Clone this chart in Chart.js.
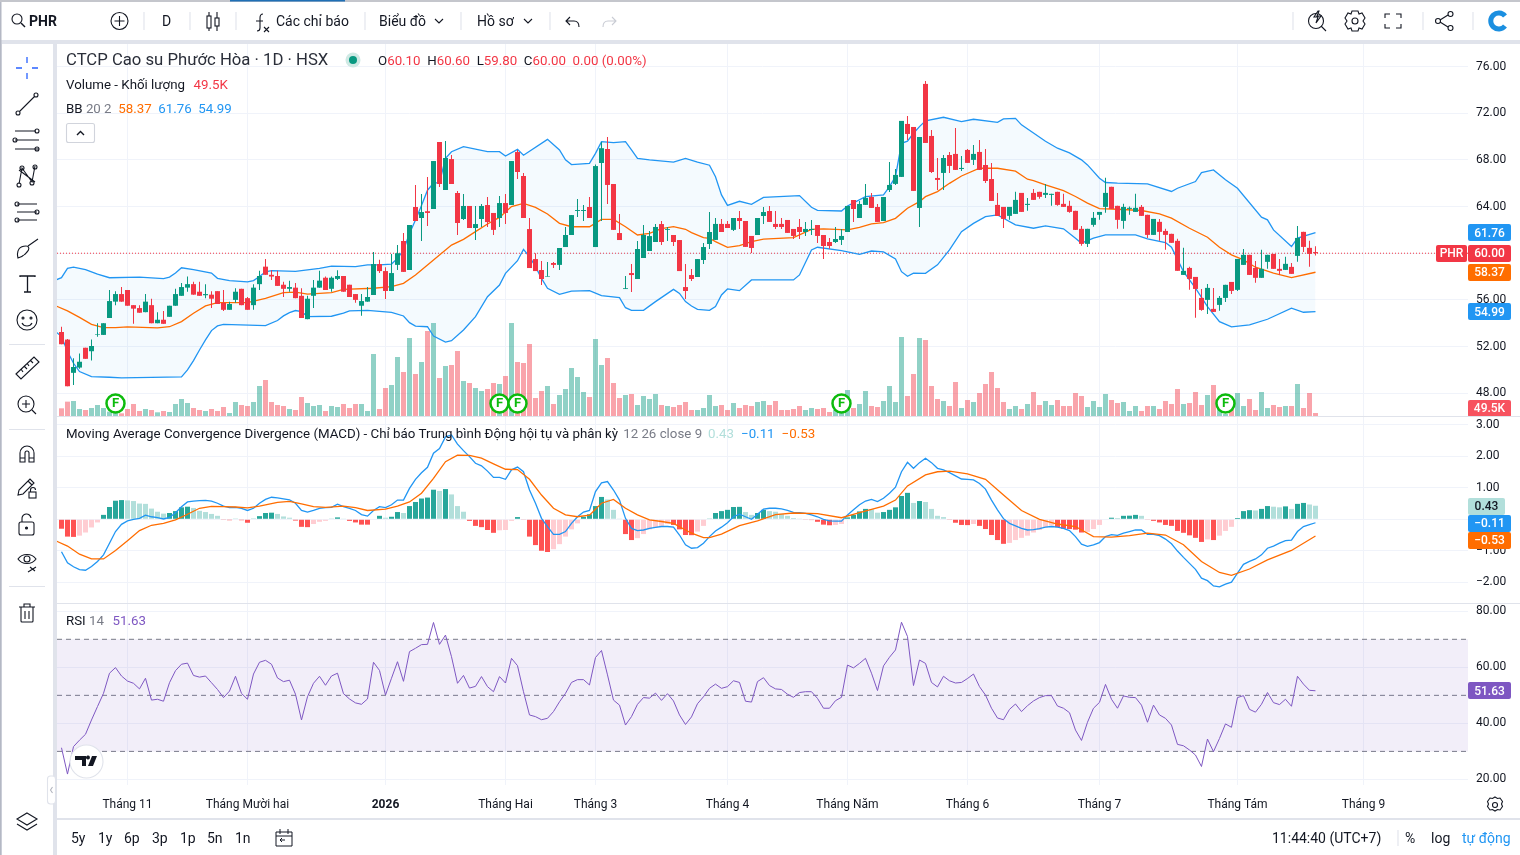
<!DOCTYPE html>
<html lang="vi">
<head>
<meta charset="utf-8">
<title>PHR</title>
<script src="https://cdn.jsdelivr.net/npm/chart.js@4"></script>
<style>
html,body{margin:0;padding:0;width:1520px;height:855px;overflow:hidden;background:#e0e3eb;font-family:Roboto,sans-serif;color:#131722}
.box{position:absolute;background:#fff}
.pane{position:absolute;left:57px}
.t{position:absolute;white-space:nowrap;line-height:1;font-size:14px}
.s{font-size:13.300px}
.r{color:#f23645}.b{color:#2196f3}.o{color:#ff6d00}.g{color:#787b86}
svg{position:absolute;left:0;top:0;pointer-events:none}
</style>
</head>
<body>
<div class="box" style="left:0;top:2px;width:1520px;height:38px"></div>
<div class="box" style="left:2px;top:44px;width:51px;height:811px"></div>
<div class="box" style="left:57px;top:820px;width:1463px;height:35px"></div>
<div class="box" style="left:57px;top:44px;width:1463px;height:774px"></div>

<div class="pane" style="top:44px"><canvas id="priceChart" width="1463" height="372"></canvas></div>
<div class="pane" style="top:417px"><canvas id="macdChart" width="1463" height="186"></canvas></div>
<div class="pane" style="top:604px"><canvas id="rsiChart" width="1463" height="214"></canvas></div>

<svg width="1520" height="855" fill="none" stroke="#131722" stroke-width="1.1">
  <rect x="0" y="0" width="1520" height="2" fill="#c4c6cc" stroke="none"/>
  <rect x="230" y="0" width="115" height="1.5" fill="#1f6fb5" stroke="none"/>
  <rect x="0" y="2" width="1.5" height="853" fill="#b4b8c4" stroke="none"/>
  <!-- top toolbar -->
  <circle cx="17" cy="19" r="5"/><path d="M21 23l4 4" stroke-width="1.4"/>
  <circle cx="119.500" cy="21" r="8.500"/><path d="M119.500 16v10M114.500 21h10"/>
  <g stroke="#e0e3eb"><path d="M144 12v18M190 12v18M236 12v18M365 12v18M461 12v18M550 12v18M1293 12v18M1423 12v18M1473 12v18"/></g>
  <path d="M209 12v4M209 28v3M217 12v6M217 26v5"/><rect x="207" y="16" width="4" height="12"/><rect x="215" y="18" width="4" height="8"/>
  <path d="M263 14c-3 0-3 2-3 4v10c0 2-1 3-3 3M256 21h7M264 27l5 5M269 27l-5 5"/>
  <path d="M435 19l4 4 4-4M524 19l4 4 4-4"/>
  <path d="M570 17l-4 4 4 4M566 21h8c3 0 5 2 5 6"/>
  <path stroke="#c9ccd4" d="M612 17l4 4-4 4M616 21h-8c-3 0-5 2-5 6"/>
  <circle cx="1316" cy="21" r="7.500"/><path d="M1321 26l5 5"/><path d="M1318 11l-4 6h4l-2 6 5-7h-4l2-5z" fill="#fff"/>
  <circle cx="1355" cy="21" r="3"/><path d="M1352 11h6l1 3 3-1 3 5-2 3 2 3-3 5-3-1-1 3h-6l-1-3-3 1-3-5 2-3-2-3 3-5 3 1z"/>
  <path d="M1385 18v-4h5M1396 14h5v4M1401 24v4h-5M1390 28h-5v-4"/>
  <circle cx="1450.500" cy="14" r="2.500"/><circle cx="1438" cy="21" r="2.500"/><circle cx="1450.500" cy="28" r="2.500"/><path d="M1440 20l8-5M1440 22l8 5"/>
  <path d="M1505 16a8 8 0 1 0 0 10" stroke="#1b8fe0" stroke-width="5"/>
  <!-- left toolbar -->
  <path stroke="#2962ff" d="M27 57v6M27 73v6M16 68h6M32 68h6" stroke-width="1.300"/>
  <circle cx="36" cy="95" r="2"/><circle cx="18" cy="113" r="2"/><path d="M19.500 111.500l15-15"/>
  <path d="M15 131h21M15 140h24M15 149h24"/><circle cx="37" cy="131" r="2"/><circle cx="15" cy="140" r="2"/><circle cx="37" cy="149" r="2"/>
  <path d="M19 184l3-16 10 14 3-16M19 170l16 12"/><circle cx="19" cy="185" r="2"/><circle cx="22" cy="168" r="2"/><circle cx="32" cy="183" r="2"/><circle cx="35" cy="167" r="2"/>
  <path d="M17 204h20M17 212h20M17 220h20"/><circle cx="17" cy="204" r="2"/><circle cx="37" cy="212" r="2"/><circle cx="17" cy="220" r="2"/>
  <path d="M18 258c-2-8 2-12 8-12 3 0 4 3 1 6-2 2-4 5-9 6zM28 246l10-7"/>
  <path d="M20 277v-1h15v1M27.500 276v16M24 292h7" stroke-width="1.300"/>
  <circle cx="27" cy="320" r="10"/><circle cx="23" cy="318" r="1"/><circle cx="31" cy="318" r="1"/><path d="M22 323c2 4 8 4 10 0"/>
  <path stroke="#e0e3eb" d="M9 344.500h36M9 429.500h36M9 586.500h36"/>
  <path d="M16 374l18-17 5 5-18 17zM21 369l2 3M24 366l3 3M27 363l2 3M30 360l3 3"/>
  <circle cx="26" cy="404" r="8"/><path d="M32 410l4 4M26 400v8M22 404h8"/>
  <path d="M20 462v-9a7 7 0 0 1 14 0v9h-5v-9a2 2 0 0 0-4 0v9zM20 458h5M29 458h5"/>
  <path d="M18 495l1-5 11-11 4 4-11 11zM28 481l4 4"/><rect x="29" y="492" width="7" height="6"/><path d="M30.500 492v-2a2.500 2.500 0 0 1 5 0"/>
  <rect x="19" y="522" width="15" height="13" rx="2"/><path d="M22 522v-3a4.500 4.500 0 0 1 9-1"/><circle cx="26.500" cy="528" r="1" fill="#131722"/>
  <path d="M18 559c4-6 14-6 18 0-4 6-14 6-18 0z"/><circle cx="27" cy="559" r="3"/><path d="M28 572l8-5M30 567l5 4"/>
  <path d="M19 607h16M24 607v-3h6v3M21 607v14a1 1 0 0 0 1 1h10a1 1 0 0 0 1-1v-14M25 611v8M29 611v8"/>
  <path d="M27 813l10 6-10 6-10-6zM17 824l10 6 10-6"/>
  <!-- bottom bar -->
  <path d="M276 832h16v14h-16zM276 836h16M280 829v5M288 829v5M285 840h-5l2-2M280 840l2 2" stroke-width="1"/>
  <path stroke="#e0e3eb" d="M57 818.500h1463M1398 830v16"/>
  <!-- pane separators -->
  <path stroke="#e0e3eb" d="M57 416.500h1463M57 603.500h1463"/>
  <circle cx="1495" cy="805" r="2.500"/><path d="M1495 797l2.500 1.500 2.500-.5 2.500 3.500-1 2.500 1 2.500-2.500 3.500-2.500-.5-2.500 1.500-2.500-1.500-2.500 .5-2.500-3.500 1-2.500-1-2.500 2.500-3.500 2.500 .5z"/>
  <!-- panel handle -->
  <rect x="47.500" y="776" width="8" height="28" rx="3" fill="#fff" stroke="#e0e3eb"/><path stroke="#b2b5be" d="M52.500 787l-2 3 2 3"/>
  <!-- collapse button -->
  <rect x="66.500" y="123.500" width="28" height="19" rx="2" fill="#fff" stroke="#d1d4dc"/><path d="M77 135l3.500-3.500 3.500 3.500" stroke-width="1.400"/>
  <!-- status dot -->
  <circle cx="353" cy="60" r="7.500" fill="#cfe9e4" stroke="none"/><circle cx="353" cy="60" r="4" fill="#089981" stroke="none"/>
  <!-- logo -->
  <circle cx="86.500" cy="761.500" r="16.500" fill="#fff" stroke="#e0e3eb"/>
  <path d="M75 756h11v10h-4v-6h-7zM88 766l4-10h5l-4 10zM87.500 759.500a2 2 0 1 0 0-3.900a2 2 0 0 0 0 3.900z" fill="#131722" stroke="none"/>
</svg>

<div class="t" style="left:29px;top:14px;font-weight:700">PHR</div>
<div class="t" style="left:162px;top:14px">D</div>
<div class="t" style="left:276px;top:14px">Các chỉ báo</div>
<div class="t" style="left:379px;top:14px">Biểu đồ</div>
<div class="t" style="left:477px;top:14px">Hồ sơ</div>

<div class="t" style="left:66px;top:51.500px;font-size:16.700px;color:#2a2e39">CTCP Cao su Phước Hòa · 1D · HSX</div>
<div class="t s" style="left:378px;top:53.500px">O<span class="r">60.10</span>&nbsp;&nbsp;H<span class="r">60.60</span>&nbsp;&nbsp;L<span class="r">59.80</span>&nbsp;&nbsp;C<span class="r">60.00</span>&nbsp;&nbsp;<span class="r">0.00 (0.00%)</span></div>
<div class="t s" style="left:66px;top:77.500px">Volume - Khối lượng&nbsp;&nbsp;<span class="r" style="margin-left:2px">49.5K</span></div>
<div class="t s" style="left:66px;top:101.500px">BB <span class="g">20 2</span>&nbsp;&nbsp;<span class="o">58.37</span>&nbsp;&nbsp;<span class="b">61.76</span>&nbsp;&nbsp;<span class="b">54.99</span></div>
<div class="t s" style="left:66px;top:426.500px">Moving Average Convergence Divergence (MACD) - Chỉ báo Trung bình Động hội tụ và phân kỳ<span class="g" style="margin-left:5px">12 26 close 9</span><span style="color:#b2dfdb;margin-left:6px">0.43</span><span class="b" style="margin-left:7px">−0.11</span><span class="o" style="margin-left:7px">−0.53</span></div>
<div class="t s" style="left:66px;top:613.500px">RSI <span class="g">14</span>&nbsp;&nbsp;<span style="color:#7e57c2;margin-left:2px">51.63</span></div>

<div class="t" style="left:71px;top:831px">5y</div>
<div class="t" style="left:98px;top:831px">1y</div>
<div class="t" style="left:124px;top:831px">6p</div>
<div class="t" style="left:152px;top:831px">3p</div>
<div class="t" style="left:180px;top:831px">1p</div>
<div class="t" style="left:207px;top:831px">5n</div>
<div class="t" style="left:235px;top:831px">1n</div>
<div class="t" style="left:1272px;top:831px">11:44:40 (UTC+7)</div>
<div class="t" style="left:1405px;top:831px">%</div>
<div class="t" style="left:1431px;top:831px">log</div>
<div class="t b" style="left:1462px;top:831px">tự động</div>

<script>
// bars are counted from the first candle on screen
const opens = [53.25,52.6,49.75,50.2,51.9,51.6,53,53,54.45,55.85,56.5,56.85,55.55,55.3,54.95,55.55,54,54.3,54.55,55.5,56.35,57.05,57.35,56.7,56.4,56.45,56.75,55.75,55.15,56,56.95,56.15,55.55,57.35,58.85,58.15,58.05,57.3,56.95,57.05,56.35,54.35,56.35,57.05,57.9,56.95,57.8,58.05,57.3,56.5,55.5,55.85,56.42,59.07,58.47,56.76,59,61.05,58.56,63.96,63.02,63.6,63.79,69.53,65.42,68.07,65.16,62.93,64.05,62.16,62.93,64.13,63.45,63.02,64.3,64.13,68.67,66.62,62.07,59.5,58.56,58,59.16,59,60.53,61.56,63.62,63.62,63.96,60.53,67.73,68.93,65.93,61.73,56.93,58.3,57.79,59.59,60.19,60.96,62.5,62,61.56,61.13,57.1,58.13,57.96,59.42,60.79,61.14,62.51,62.51,62,63.02,62.76,61.48,61.56,63.19,63.62,62.51,62.51,62.85,62.08,62.25,61.82,61.99,62.42,61.56,60.96,60.96,61.14,61.82,64.56,63.02,64.14,64.82,63.96,62.76,65.42,65.94,66.54,71.08,70.82,63.88,74.51,70.05,66.45,66.88,68.42,68.51,67.22,68.85,68,68.68,67.56,66.36,64.14,63.97,63.2,63.37,65.17,64.14,65.17,65.26,65,65,65.26,64.23,64.06,63.63,62.09,60.8,62.43,63.29,63.97,65.69,64.06,62.77,63.8,63.54,63.97,63.29,61.57,62.69,61.91,61.66,61.06,58.14,58.74,57.97,56.17,56,55.23,55.57,56.17,57.54,56.86,59,59.86,58.74,57.89,59.26,59.94,58.66,58.57,58.83,59.77,61.83,60.46,60.1];
const highs = [53.7,52.65,51,51.4,51.9,52.6,54,54,56.85,56.75,57.1,56.85,55.55,55.55,56.5,56.1,54.95,55.05,55.5,56.95,57.45,58,57.55,57.55,57.35,56.75,56.75,56.85,55.85,57,56.95,56.25,57.35,58.5,59.5,58.55,58.5,57.55,57.65,57.45,57,56.35,57.7,58.5,58,58,58.55,58.05,57.3,56.5,56.5,57.1,60.1,59.45,58.8,59.93,60.7,61.73,62.42,65.85,65.07,66.53,67.9,69.53,69.62,68.42,65.33,65.07,64.05,64.05,64.22,64.82,63.45,64.9,65.07,67.9,68.85,66.87,63.02,60,59.33,59.25,59.25,60.45,62.25,63.27,64.65,64.13,64.82,67.6,69.53,69.96,65.93,63.36,58.05,59.07,61.05,62.42,61.9,62.5,62.76,62.25,61.56,61.13,59.07,58.65,59.5,60.88,63.53,63.02,62.94,62.76,63.02,63.62,62.76,61.48,61.56,63.96,64.05,63.62,63.02,62.85,62.08,62.94,62.68,62.85,62.42,61.56,61.3,62.25,62.08,64.05,64.56,64.48,65.94,65.16,64.22,64.82,67.82,67.22,71.34,71.76,70.82,69.96,74.76,70.56,68.16,68.42,68.68,70.74,68.34,68.94,69.28,69.71,68.94,67.74,65.16,63.97,63.97,65.26,65.17,64.74,65.51,65.26,65.94,65.09,65.26,65.09,64.49,63.63,62.34,62.09,63.54,63.54,66.46,65.69,64.06,64.23,64,65.09,64.14,63.29,62.94,62.94,62.09,61.66,61.23,60.46,58.83,57.97,56.94,57.37,57.03,56.34,57.29,57.54,59.51,60.37,59.86,59.34,60.29,59.86,59.94,59.51,59.69,59.17,62.34,61.83,61.06,60.6];
const lows = [52.2,48.6,48.7,50.1,50.95,50.8,52.85,53,54.45,55.55,55.85,55.5,53.95,54.9,54.95,54,54,53.95,54.55,55.5,56.35,56.7,56.45,56.35,56.15,55.3,55.65,55.05,55.15,55.75,55.55,55.15,55.15,56.85,58.15,57.7,57.2,56.25,56.7,56.15,54.45,54.35,55.3,57.05,56.85,56.7,57.7,56.7,56.25,55.75,54.65,55.85,56.42,58.3,56.07,56.76,58.56,58.4,58.56,62.76,61.05,62.33,63.79,65.67,65.42,65.93,61.56,62.85,62.16,61.13,62.25,62.25,61.56,62.25,62.5,64.13,66.36,63.02,58.73,58.47,57.27,58,58.73,58.56,60.53,61.56,63.1,62.76,63.02,60.53,62.76,64.22,62,61.13,56.93,56.67,57.79,59.59,60.19,60.96,60.7,61.05,60.62,58.47,56.07,57.62,57.96,59.08,60.36,61.14,61.82,62.16,61.9,62.08,60.54,60.02,61.56,62.51,62.68,62.08,62.08,61.74,61.22,61.22,61.48,61.56,60.88,59.51,60.39,60.88,60.71,61.82,62.68,63.02,64.14,63.88,62.68,62.76,65.25,65.85,66.54,69.71,65.34,62.25,69.45,66.88,65.42,65.42,66.88,67.14,67.05,67.74,67.56,67.14,66.02,64.48,63.19,62.17,62.86,63.37,63.54,63.63,64.57,64.66,64.74,64.06,64.06,63.97,63.46,62,60.63,60.54,62.26,62.86,63.46,63.8,62.09,62.09,63.29,63.54,63.2,61.31,61.57,61.06,60.29,60.89,58.49,58.14,56.86,54.46,55.06,54.8,54.97,55.06,55.83,56.51,56.77,59,58.14,57.46,57.89,58.66,58.66,58.14,58.57,58.23,59.26,60.11,58.83,59.8];
const closes = [52.2,48.6,50.25,50.7,50.95,52.05,53.05,54,55.9,56.5,55.85,55.5,55.25,54.9,55.85,54,54.3,53.95,55.5,56.5,57.1,57.35,56.45,56.35,56.5,56.1,55.65,55.15,55.65,56.7,55.55,55.15,57.05,58.05,58.15,58,57.2,56.95,57.1,56.15,54.45,56.1,57.05,57.65,56.85,57.9,58.05,56.7,56.25,56,55.9,56.25,59.07,58.47,56.76,58.3,60,58.4,62.42,62.76,63.53,63.45,67.9,65.93,68.16,65.93,62.59,64.05,62.16,62.5,64.05,62.67,62,64.3,63.45,67.9,66.96,63.02,58.73,58.47,57.79,58.05,59,60.45,61.56,63.27,63.7,63.7,63.02,67.47,69,65.85,62,61.13,57,58.13,60.36,61.56,61.47,62.25,60.96,62.07,60.96,58.47,56.76,57.79,59.5,60.53,61.82,62.51,61.82,62.16,63.02,62.76,60.54,60.45,63.02,63.53,62.68,62.25,62.25,61.74,61.48,61.82,62.08,62.08,61.48,60.62,60.62,61.22,61.48,64.05,63.79,64.22,64.74,63.88,62.68,64.82,65.85,66.71,71.34,70.22,65.34,69.96,69.45,66.96,66.28,68.16,67.48,67.14,67.31,67.74,68.51,67.14,66.19,64.48,63.19,62.94,63.97,64.57,63.54,64.23,64.57,64.83,65.17,65.09,64.14,63.97,63.54,62,60.8,62.09,63.03,63.54,65.17,63.8,62.86,63.97,63.89,63.89,63.2,61.57,62.94,61.83,61.57,60.89,58.49,58.49,57.8,56.94,55.14,57.03,54.97,56.17,57.29,56.77,59.51,59.86,58.14,57.89,58.66,59.86,58.66,58.49,59.09,58.23,61.31,60.54,59.94,60];
const volumes = [127,237,248,116,99,132,182,132,72,55,44,116,198,83,116,99,61,83,66,198,281,215,132,99,83,116,83,149,50,231,182,165,231,495,594,231,182,165,116,99,314,215,165,182,83,165,149,198,132,198,198,83,1023,116,462,512,974,726,1287,693,891,1403,1535,627,825,842,1073,578,545,462,413,446,545,528,660,1535,891,875,1188,297,413,495,198,347,446,792,644,396,314,1271,842,957,545,297,347,363,182,330,281,363,182,165,149,182,231,99,99,132,347,165,182,99,215,132,182,165,231,248,182,248,99,99,116,165,99,132,116,132,66,99,182,429,132,198,413,165,149,248,495,231,1304,330,693,1287,1254,495,281,248,165,561,132,264,231,380,528,726,462,231,116,165,116,198,396,182,248,182,264,165,165,380,330,149,248,149,363,264,215,231,83,165,83,165,165,116,248,198,446,198,215,396,182,347,512,154,33,130,380,165,281,99,396,132,182,149,165,165,528,132,380,49.5];

// Bollinger lines, read at their bends: [bar, value]
const bbUpper = [[-1,57.7],[0,57.9],[1,58.7],[2,58.8],[4,58.6],[6,58.2],[8,57.9],[13,57.95],[17,57.83],[18,57.95],[19,58.3],[20,58.75],[22,58.6],[25,58.3],[26,57.85],[28,57.65],[31,57.55],[32,57.65],[33,58],[34,58.4],[35,58.5],[39,58.45],[43,58.7],[45,58.9],[49,58.85],[51,59],[53,59],[55,59.07],[56,59.56],[57,60.27],[58,61.7],[59,62.85],[60,64.1],[61,65.4],[62,66],[63,66.05],[64,68.13],[65,68.7],[67,69.13],[71,68.7],[73,68.7],[74,68.33],[76,68.9],[77,68.4],[81,69.76],[83,68.85],[84,68],[85,67.6],[88,67.7],[89,68.56],[90,69.56],[92,69.47],[94,69.56],[95,68.85],[96,68.13],[98,68],[102,67.8],[104,68.13],[106,67.8],[108,67.54],[109,66.56],[110,65],[111,64.1],[113,64.45],[115,64.19],[117,64.79],[123,64.94],[125,63.94],[126,63.68],[130,63.62],[131,64.05],[134,64.85],[137,65],[138,65.71],[139,66.56],[140,69.42],[141,69.6],[142,70.28],[143,70.85],[144,71.34],[147,71.65],[150,71.28],[152,71.48],[156,71.22],[157,71.51],[159,71.56],[160,71],[162,70.3],[164,69.6],[166,69],[168,68.6],[170,68],[171,67.57],[173,66.43],[174,66.06],[176,66],[181,65.94],[185,65.29],[186,65.57],[189,66.14],[190,66.91],[192,67.14],[194,66.29],[196,65.57],[200,63.09],[201,62.86],[202,62],[205,60.57],[206,61.29],[209,61.76]];
const bbMiddle = [[-1,55.5],[1,55.06],[3,54.5],[5,53.9],[7,53.63],[9,53.63],[11,53.69],[16,53.6],[18,53.7],[20,54.14],[22,54.86],[24,55.49],[26,55.77],[29,55.77],[31,55.77],[34,56.14],[37,56.63],[39,56.66],[41,56.49],[45,56.63],[47,56.91],[52,57],[55,57.13],[57,57.42],[59,58.13],[61,58.99],[63,59.85],[65,60.7],[67,61.19],[69,61.85],[71,62.5],[73,63.07],[75,64],[77,64.27],[79,63.93],[81,63.36],[83,62.56],[85,62.27],[88,62.27],[90,62.9],[92,62.9],[94,62.27],[96,61.56],[98,61.7],[100,62.1],[102,62.27],[104,62.05],[105,61.76],[107,61.34],[108,61.28],[109,61],[111,60.51],[113,60.65],[115,61],[117,61.2],[122,61.34],[125,62.05],[127,62.08],[131,62],[133,62.22],[135,62.51],[137,62.62],[139,62.99],[141,63.85],[143,64.42],[144,64.85],[146,65.28],[148,65.99],[150,66.62],[153,67.28],[156,67.28],[159,67.03],[161,66.34],[162,66.23],[164,65.86],[167,65.37],[169,64.86],[171,64.29],[173,63.83],[176,63.77],[180,63.66],[183,63.37],[185,63],[188,62.14],[191,61.37],[193,60.51],[195,59.86],[197,59.43],[199,58.8],[202,58.29],[205,57.91],[209,58.37]];
const bbLower = [[-1,53.29],[0,52.86],[1,51.57],[2,50.57],[3,49.86],[5,49.43],[8,49.37],[10,49.31],[20,49.4],[21,50],[22,50.8],[23,51.71],[24,52.57],[25,53.37],[26,53.77],[27,53.91],[34,53.8],[36,54.23],[37,54.63],[38,54.91],[39,55.09],[40,55],[41,54.57],[45,54.6],[47,54.86],[48,55.06],[51,55.11],[55,54.93],[57,54.62],[58,54.05],[59,53.76],[61,53.7],[62,52.9],[64,52.39],[65,52.5],[67,53.42],[69,54.56],[71,56.27],[73,57.27],[74,58.27],[76,59.36],[77,60.33],[78,59.7],[79,58.85],[80,57.85],[81,57],[83,56.47],[85,56.76],[88,56.8],[90,56.36],[93,56.19],[94,55.33],[95,55.1],[97,55.1],[99,55.85],[102,56.9],[103,56.56],[104,55.85],[105,55.48],[106,55.19],[108,55.1],[109,55.42],[110,56.42],[111,56.94],[113,56.79],[115,57.71],[122,57.71],[123,58.14],[125,60.28],[126,60.51],[130,60.22],[133,59.91],[135,60.19],[137,60.11],[139,59.51],[140,58.42],[141,58.02],[142,58.3],[144,58.28],[146,59],[148,60.28],[150,61.85],[152,62.56],[154,63.14],[156,63.28],[157,63],[159,62.43],[162,62.14],[164,62.34],[167,62.09],[169,61.29],[170,60.86],[172,61.29],[174,61.57],[179,61.57],[181,61.23],[184,60.91],[185,60.51],[187,58.43],[189,57],[191,55.43],[193,54.14],[195,53.69],[198,53.86],[201,54.34],[205,55.29],[207,54.94],[209,54.99]];

const macdHist = [-0.3,-0.55,-0.56,-0.52,-0.42,-0.26,-0.1,0.14,0.39,0.59,0.61,0.6,0.58,0.5,0.49,0.34,0.24,0.18,0.2,0.26,0.38,0.4,0.36,0.27,0.23,0.17,0.11,-0.01,-0.03,0.02,-0.03,-0.11,0.01,0.1,0.2,0.21,0.17,0.09,0.05,-0.04,-0.24,-0.25,-0.15,-0.08,-0.05,0.02,0.06,0.01,-0.05,-0.1,-0.17,-0.171,0,0.11,0.05,0.08,0.23,0.2,0.42,0.55,0.66,0.69,0.94,0.9,0.96,0.79,0.42,0.24,-0.05,-0.21,-0.25,-0.34,-0.43,-0.35,-0.34,-0.05,0.07,-0.02,-0.55,-0.82,-1,-1.04,-0.95,-0.79,-0.55,-0.32,-0.13,0.08,0.16,0.42,0.71,0.63,0.3,0.01,-0.47,-0.66,-0.6,-0.47,-0.32,-0.25,-0.21,-0.15,-0.18,-0.32,-0.5,-0.505,-0.39,-0.21,0.01,0.2,0.26,0.3,0.39,0.395,0.23,0.14,0.2,0.3,0.26,0.24,0.17,0.11,0.04,0.01,-0.02,-0.025,-0.08,-0.17,-0.19,-0.18,-0.15,0.06,0.14,0.25,0.33,0.32,0.21,0.23,0.3,0.38,0.74,0.84,0.52,0.58,0.55,0.33,0.11,0.07,-0.01,-0.11,-0.18,-0.185,-0.15,-0.21,-0.31,-0.5,-0.66,-0.78,-0.75,-0.66,-0.59,-0.52,-0.42,-0.34,-0.26,-0.2,-0.25,-0.3,-0.31,-0.33,-0.42,-0.4,-0.31,-0.18,0,0.05,0.04,0.11,0.115,0.14,0.11,-0.02,-0.05,-0.1,-0.18,-0.21,-0.37,-0.43,-0.51,-0.59,-0.72,-0.64,-0.66,-0.52,-0.37,-0.24,0.04,0.26,0.29,0.28,0.33,0.42,0.4,0.38,0.41,0.33,0.49,0.52,0.47,0.43];
const macdLine = [-1.03,-1.38,-1.51,-1.6,-1.62,-1.5,-1.34,-1.13,-0.76,-0.39,-0.16,-0.05,0,0.03,0.13,0.08,0.05,0.01,0.06,0.21,0.4,0.55,0.58,0.59,0.6,0.58,0.51,0.42,0.37,0.38,0.35,0.28,0.35,0.51,0.63,0.7,0.68,0.65,0.62,0.51,0.28,0.23,0.28,0.35,0.37,0.38,0.48,0.4,0.35,0.28,0.15,0.1,0.28,0.4,0.37,0.46,0.61,0.61,0.98,1.27,1.48,1.65,2.1,2.25,2.62,2.68,2.39,2.18,1.99,1.78,1.7,1.53,1.33,1.33,1.27,1.57,1.66,1.51,0.93,0.51,0.03,-0.23,-0.48,-0.48,-0.39,-0.13,0.08,0.23,0.28,0.88,1.16,1.2,0.93,0.61,0.03,-0.29,-0.36,-0.34,-0.29,-0.26,-0.23,-0.23,-0.25,-0.5,-0.81,-0.92,-0.9,-0.76,-0.55,-0.37,-0.25,-0.11,0.08,0.16,0.08,0,0.16,0.32,0.35,0.35,0.33,0.28,0.22,0.21,0.19,0.14,0.08,0,-0.05,-0.06,-0.06,0.14,0.3,0.46,0.58,0.63,0.56,0.67,0.83,1.02,1.51,1.81,1.62,1.8,1.94,1.8,1.62,1.57,1.48,1.38,1.28,1.27,1.25,1.14,0.96,0.61,0.3,0.02,-0.13,-0.21,-0.29,-0.34,-0.33,-0.3,-0.25,-0.23,-0.25,-0.29,-0.36,-0.55,-0.79,-0.86,-0.81,-0.74,-0.55,-0.49,-0.51,-0.44,-0.39,-0.34,-0.34,-0.48,-0.48,-0.52,-0.63,-0.78,-1.01,-1.21,-1.4,-1.59,-1.87,-1.95,-2.12,-2.15,-2.06,-2,-1.71,-1.43,-1.34,-1.26,-1.13,-0.92,-0.85,-0.76,-0.68,-0.66,-0.39,-0.23,-0.17,-0.11];
const macdSignal = [[-1,-0.68],[1,-0.85],[3,-1.11],[5,-1.26],[7,-1.26],[9,-0.99],[11,-0.68],[13,-0.36],[15,-0.19],[17,-0.13],[19,-0.02],[21,0.16],[23,0.35],[25,0.41],[27,0.4],[29,0.39],[31,0.36],[33,0.42],[36,0.54],[38,0.57],[40,0.49],[42,0.4],[44,0.38],[47,0.42],[49,0.37],[51,0.28],[54,0.32],[56,0.42],[58,0.55],[60,0.83],[62,1.3],[64,1.83],[66,2.04],[68,2.03],[70,1.94],[72,1.76],[74,1.59],[76,1.58],[78,1.27],[80,0.77],[82,0.35],[84,0.14],[86,0.08],[88,0.13],[90,0.51],[92,0.63],[94,0.35],[96,0.14],[98,-0.02],[100,-0.07],[102,-0.13],[104,-0.34],[105,-0.44],[107,-0.58],[108,-0.58],[110,-0.47],[113,-0.2],[116,-0.05],[119,0.15],[122,0.2],[126,0.18],[130,0.05],[133,0.21],[137,0.42],[139,0.61],[141,1.06],[144,1.41],[146,1.51],[148,1.53],[151,1.44],[154,1.27],[157,0.77],[160,0.28],[163,0],[166,-0.15],[169,-0.23],[172,-0.55],[175,-0.57],[178,-0.52],[181,-0.44],[184,-0.5],[187,-0.81],[190,-1.34],[193,-1.69],[195,-1.78],[198,-1.58],[201,-1.29],[205,-0.99],[209,-0.53]];
const rsiLine = [31.3,21.9,31.7,34,36.1,41.2,46,50.7,57.9,59.9,56.9,55.1,54.3,52.3,56.1,48.3,48.6,47.9,54.5,58.8,61.1,61.5,57.1,56.5,56.9,54.5,52.1,49.2,51.5,56.8,50.7,48.6,57.6,61.8,62.5,61.1,56.2,54.9,55.4,50.4,41.2,49.5,54.3,56.8,53.6,56.9,57.9,50.6,48.7,47.3,46.8,48.7,61.8,58.9,50.1,56.1,62,55,65.6,66.8,68.1,68.2,76,68.2,71.5,63.8,54.3,57.1,52.6,53.2,56.7,53.1,51.3,56.7,54.4,63.2,60.6,51.3,43,42.4,41.3,41.8,44.2,47.7,50.7,54.6,55.6,55.6,53.7,63.5,66,57.3,48.3,46.5,39.4,42.4,46.8,49.2,49,50.8,48.2,50.6,48,43,39.6,42.3,47,49.5,52.5,54,52.5,53.1,55.2,54.6,47.9,47.6,54.9,56.3,53.5,52.3,52.1,50.4,49.3,51,51.3,51.3,48.9,45.4,45.4,48.1,49.3,60.8,59.8,61.4,63.2,57.9,51.7,60.5,63.6,66.2,76.1,71,53.5,62.6,61.4,54.6,53,56.8,55.2,54.4,54.6,56,57.6,53.1,50.1,45.4,41.9,41.3,45,46.9,44.2,46.3,48,49.2,49.9,49.9,46.2,45.4,43.8,37.6,33.9,40.4,45.4,47.5,53.9,48.6,45.4,49.8,49.3,49.2,46.5,40.4,46.5,43,41.8,39.4,32.5,32,30.5,28.7,24.6,34.4,29.9,34.6,39.8,38.6,49.2,49.9,45,44,46.8,51,47.4,46.7,48.6,46.1,56.8,54,51.8,51.63];

const monthDays = [11,31,54,74,89,111,131,151,173,196,217];
const monthLabels = ['Tháng 11','Tháng Mười hai','2026','Tháng Hai','Tháng 3','Tháng 4','Tháng Năm','Tháng 6','Tháng 7','Tháng Tám','Tháng 9'];
const priceTicks = [48,52,56,60,64,68,72,76];
const macdTicks = [3,2,1,0,-1,-2];
const rsiTicks = [80,60,40,20];
const rsiBands = [70,50,30];
const earningsDays = [9,73,76,130,194];
const lastPrice = 60;

const UP = '#089981', DOWN = '#f23645', BLUE = '#2196f3', ORANGE = '#ff6d00', PURPLE = '#7e57c2', GRID = '#f0f3fa';
const xMin = -0.75, xMax = 234.42;
const days = opens.map((_, i) => i);
const isUp = i => closes[i] >= opens[i];
const pts = list => list.map(p => ({x: p[0], y: p[1]}));
const series = list => list.map((v, i) => ({x: i, y: v}));

Chart.defaults.font.family = 'Roboto';
Chart.defaults.font.size = 12;

function line(data, color, order, extra) {
    return Object.assign({type: 'line', data: data, borderColor: color, borderWidth: 1.3, pointRadius: 0, tension: 0, fill: false, order: order, yAxisID: 'y'}, extra);
}

function paneOptions(yMin, yMax, yTicks, fmt, showTime) {
    return {
        responsive: false,
        animation: false,
        events: [],
        layout: {padding: 0, autoPadding: false},
        plugins: {legend: {display: false}, tooltip: {enabled: false}},
        scales: {
            x: {
                type: 'linear', min: xMin, max: xMax, offset: false,
                afterBuildTicks: s => { s.ticks = monthDays.map(v => ({value: v})); },
                afterFit: s => { s.paddingLeft = 0; s.paddingRight = 0; if (showTime) s.height = 33; },
                grid: {color: GRID, offset: false, drawTicks: false},
                border: {display: false},
                ticks: {
                    display: showTime, autoSkip: false, maxRotation: 0, padding: 13, color: '#131722',
                    font: ctx => ({size: 12, family: 'Roboto', weight: ctx.tick && ctx.tick.value === 54 ? 'bold' : 'normal'}),
                    callback: v => monthLabels[monthDays.indexOf(v)]
                }
            },
            y: {
                position: 'right', min: yMin, max: yMax,
                afterBuildTicks: s => { s.ticks = yTicks.map(v => ({value: v})); },
                afterFit: s => { s.width = 52; s.paddingTop = 0; s.paddingBottom = 0; },
                grid: {color: GRID, drawTicks: false},
                border: {display: false},
                ticks: {autoSkip: false, padding: 8, crossAlign: 'near', color: '#131722', callback: fmt}
            }
        }
    };
}

// value tags on the right edge
function tagsPlugin(tags) {
    return {
        id: 'tags',
        afterDraw(chart) {
            const c = chart.ctx, s = chart.scales.y;
            c.save();
            c.font = '500 12px Roboto';
            c.textAlign = 'center';
            c.textBaseline = 'middle';
            tags.forEach(t => {
                const y = (t.value !== undefined ? s.getPixelForValue(t.value) : t.y) + (t.nudge || 0);
                const x = s.left + (t.left || 0), w = t.width || 43;
                c.fillStyle = t.color;
                c.beginPath();
                c.roundRect(x, Math.round(y - 8.5), w, 17, 2);
                c.fill();
                c.fillStyle = t.ink || '#fff';
                c.fillText(t.text, x + w / 2, Math.round(y) + 0.5);
            });
            c.restore();
        }
    };
}

const earningsLetters = {
    id: 'earningsLetters',
    afterDatasetsDraw(chart) {
        const c = chart.ctx, sx = chart.scales.x, sy = chart.scales.y;
        c.save();
        c.font = '700 13px Roboto';
        c.fillStyle = '#0cbb0c';
        c.textAlign = 'center';
        c.textBaseline = 'middle';
        earningsDays.forEach(d => c.fillText('F', sx.getPixelForValue(d), sy.getPixelForValue(47.12) + 0.5));
        c.restore();
    }
};

new Chart(document.getElementById('priceChart'), {
    type: 'bar',
    data: {datasets: [
        {type: 'scatter', data: earningsDays.map(d => ({x: d, y: 47.12})), pointRadius: 9, borderWidth: 2.5, borderColor: '#0cbb0c', backgroundColor: '#fff', order: 0, yAxisID: 'y'},
        {data: days.map(i => ({x: i, y: [opens[i], closes[i]]})), backgroundColor: days.map(i => isUp(i) ? UP : DOWN), barThickness: 5, grouped: false, inflateAmount: 0, order: 1, yAxisID: 'y'},
        {data: days.map(i => ({x: i, y: [lows[i], highs[i]]})), backgroundColor: days.map(i => isUp(i) ? UP : DOWN), barThickness: 1, grouped: false, inflateAmount: 0, order: 2, yAxisID: 'y'},
        line(pts(bbMiddle), ORANGE, 3),
        line(pts(bbUpper), BLUE, 4, {fill: {target: '+1'}, backgroundColor: 'rgba(33,150,243,0.05)'}),
        line(pts(bbLower), BLUE, 5),
        line([{x: xMin, y: lastPrice}, {x: xMax, y: lastPrice}], DOWN, 6, {borderWidth: 1, borderDash: [1, 2]}),
        {data: series(volumes), backgroundColor: days.map(i => isUp(i) ? 'rgba(8,153,129,0.45)' : 'rgba(242,54,69,0.45)'), barThickness: 5, grouped: false, inflateAmount: 0, order: 7, yAxisID: 'vol'}
    ]},
    options: (() => {
        const o = paneOptions(46.05, 77.93, priceTicks, v => v === 60 ? '' : v.toFixed(2), false);
        o.scales.vol = {display: false, min: 0, max: 6138};
        return o;
    })(),
    plugins: [earningsLetters, tagsPlugin([
        {value: 61.76, text: '61.76', color: BLUE},
        {value: 58.37, text: '58.37', color: ORANGE},
        {value: 54.99, text: '54.99', color: BLUE},
        {value: 60, text: '60.00', color: DOWN},
        {value: 60, text: 'PHR', color: DOWN, left: -32, width: 31},
        {y: 364, text: '49.5K', color: '#f7525f', nudge: 0}
    ])]
});

const histColor = (v, i) => {
    const prev = i ? macdHist[i - 1] : v + (v < 0 ? 1 : -1);
    if (v >= 0) return v >= prev ? '#26a69a' : '#b2dfdb';
    return v <= prev ? '#ff5252' : '#ffcdd2';
};

new Chart(document.getElementById('macdChart'), {
    type: 'bar',
    data: {datasets: [
        line(pts(macdSignal), ORANGE, 0),
        line(series(macdLine), BLUE, 1),
        {data: series(macdHist), backgroundColor: macdHist.map(histColor), barThickness: 5, grouped: false, inflateAmount: 0, order: 2, yAxisID: 'y'}
    ]},
    options: paneOptions(-2.66, 3.25, macdTicks, v => v.toFixed(2).replace('-', '−'), false),
    plugins: [tagsPlugin([
        {value: 0.43, text: '0.43', color: '#b2dfdb', ink: '#131722', width: 37, nudge: 0.7},
        {value: -0.53, text: '−0.53', color: ORANGE, nudge: 4.5},
        {value: -0.11, text: '−0.11', color: BLUE, nudge: 0.7}
    ])]
});

new Chart(document.getElementById('rsiChart'), {
    type: 'line',
    data: {datasets: [
        line(series(rsiLine), PURPLE, 0, {borderWidth: 1}),
        line([{x: xMin, y: rsiBands[0]}, {x: xMax, y: rsiBands[0]}], '#787b86', 1, {borderWidth: 1, borderDash: [5, 4], fill: {target: '+2'}, backgroundColor: 'rgba(126,87,194,0.1)'}),
        line([{x: xMin, y: rsiBands[1]}, {x: xMax, y: rsiBands[1]}], '#787b86', 2, {borderWidth: 1, borderDash: [5, 4]}),
        line([{x: xMin, y: rsiBands[2]}, {x: xMax, y: rsiBands[2]}], '#787b86', 3, {borderWidth: 1, borderDash: [5, 4]})
    ]},
    options: paneOptions(18, 82.6, rsiTicks, v => v.toFixed(2), true),
    plugins: [tagsPlugin([{value: 51.63, text: '51.63', color: PURPLE}])]
});
</script>
</body>
</html>
